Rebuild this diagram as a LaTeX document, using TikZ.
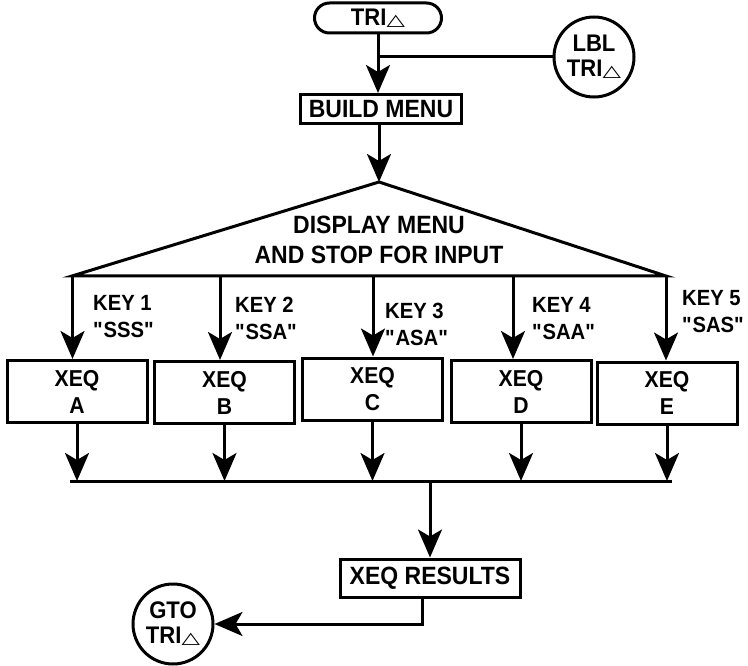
\documentclass[tikz,border=0pt]{standalone}
\usepackage{fontspec}
\setmainfont{Liberation Sans}[FakeStretch=0.92]
\newfontfamily\trifont{DejaVu Sans}
\usetikzlibrary{arrows.meta,positioning}
\newcommand{\trisym}{{\trifont\mdseries\fontsize{16}{16}\selectfont\scalebox{1.5}[1]{△}}}
\newcommand{\qq}[1]{\textquotedbl#1\textquotedbl}

\begin{document}
\begin{tikzpicture}[x=1pt, y=-1pt, >={Stealth[length=28pt,width=24pt,inset=7pt]},
  termnode/.style={draw, line width=3pt, rounded corners=15pt, minimum width=127pt,
     minimum height=30pt, inner sep=0pt, font=\bfseries\fontsize{24}{25}\selectfont},
  procbox/.style={draw, line width=3pt, align=center, inner sep=0pt,
     font=\bfseries\fontsize{25}{30}\selectfont},
  xeqbox/.style={procbox, minimum width=140pt, minimum height=62pt,
     font=\bfseries\fontsize{23}{27}\selectfont},
  conncirc/.style={circle, draw, line width=3pt, minimum size=80pt, inner sep=0pt,
     align=center, font=\bfseries\fontsize{24}{25}\selectfont},
  keylabel/.style={anchor=west, align=left, inner sep=0pt,
     font=\bfseries\fontsize{22}{27}\selectfont},
  flow/.style={->, line width=3pt},
  wire/.style={line width=3pt}]
  \useasboundingbox (0,0) rectangle (748,666);

  % entry and menu
  \node[termnode] (start) at (378,18) {TRI\trisym};
  \node[conncirc] (lbl) at (594,57) {LBL\\TRI\trisym};
  \node[procbox, minimum width=161pt, minimum height=29pt] (build) at (381,109) {BUILD MENU};
  \coordinate (join) at (start.south |- lbl.west);
  \draw[wire] (lbl.west) -- (join);
  \draw[flow] (start.south) -- (start.south |- build.north);

  \coordinate (apex) at (379,182);
  \coordinate (bl) at (72,276);
  \coordinate (br) at (666,276);
  \draw[flow] (build.south -| apex) -- (apex);
  \draw[wire] (bl) -- (apex) -- (br) -- cycle;
  \node[procbox, draw=none] (menu) at (379,240) {DISPLAY MENU\\AND STOP FOR INPUT};

  % key branches
  \coordinate (k1) at (72.5,276);
  \coordinate (k2) at (220,276);
  \coordinate (k3) at (373,276);
  \coordinate (k4) at (513,276);
  \coordinate (k5) at (666,276);
  \node[xeqbox] (xa) at (77,391.5)  {XEQ\\A};
  \node[xeqbox] (xb) at (224.5,392.5) {XEQ\\B};
  \node[xeqbox] (xc) at (372.5,389)  {XEQ\\C};
  \node[xeqbox] (xd) at (521,391.5)  {XEQ\\D};
  \node[xeqbox] (xe) at (667,393)  {XEQ\\E};
  \draw[flow] (k1) -- (k1 |- xa.north);
  \draw[flow] (k2) -- (k2 |- xb.north);
  \draw[flow] (k3) -- (k3 |- xc.north);
  \draw[flow] (k4) -- (k4 |- xd.north);
  \draw[flow] (k5) -- (k5 |- xe.north);
  \node[keylabel] (lab1) at (93,316.5)  {KEY 1\\\qq{SSS}};
  \node[keylabel] (lab2) at (235,318.5) {KEY 2\\\qq{SSA}};
  \node[keylabel] (lab3) at (385,324.5) {KEY 3\\\qq{ASA}};
  \node[keylabel] (lab4) at (532,319)   {KEY 4\\\qq{SAA}};
  \node[keylabel] (lab5) at (682,312)   {KEY 5\\\qq{SAS}};

  % collect and results
  \coordinate (cl) at (70,481);
  \coordinate (cr) at (672,481);
  \draw[wire] (cl) -- (cr);
  \draw[flow] (xa.south) -- (xa.south |- cl);
  \draw[flow] (xb.south) -- (xb.south |- cl);
  \draw[flow] (xc.south) -- (xc.south |- cl);
  \draw[flow] (xd.south) -- (xd.south |- cl);
  \draw[flow] (xe.south) -- (xe.south |- cl);

  \node[procbox, minimum width=180pt, minimum height=38pt] (res) at (430,578) {XEQ RESULTS};
  \node[conncirc] (gto) at (173,624) {GTO\\TRI\trisym};
  \draw[flow] (res.north |- cl) -- (res.north);
  \draw[flow] ([xshift=-8pt]res.south) |- (gto.east);
\end{tikzpicture}
\end{document}
